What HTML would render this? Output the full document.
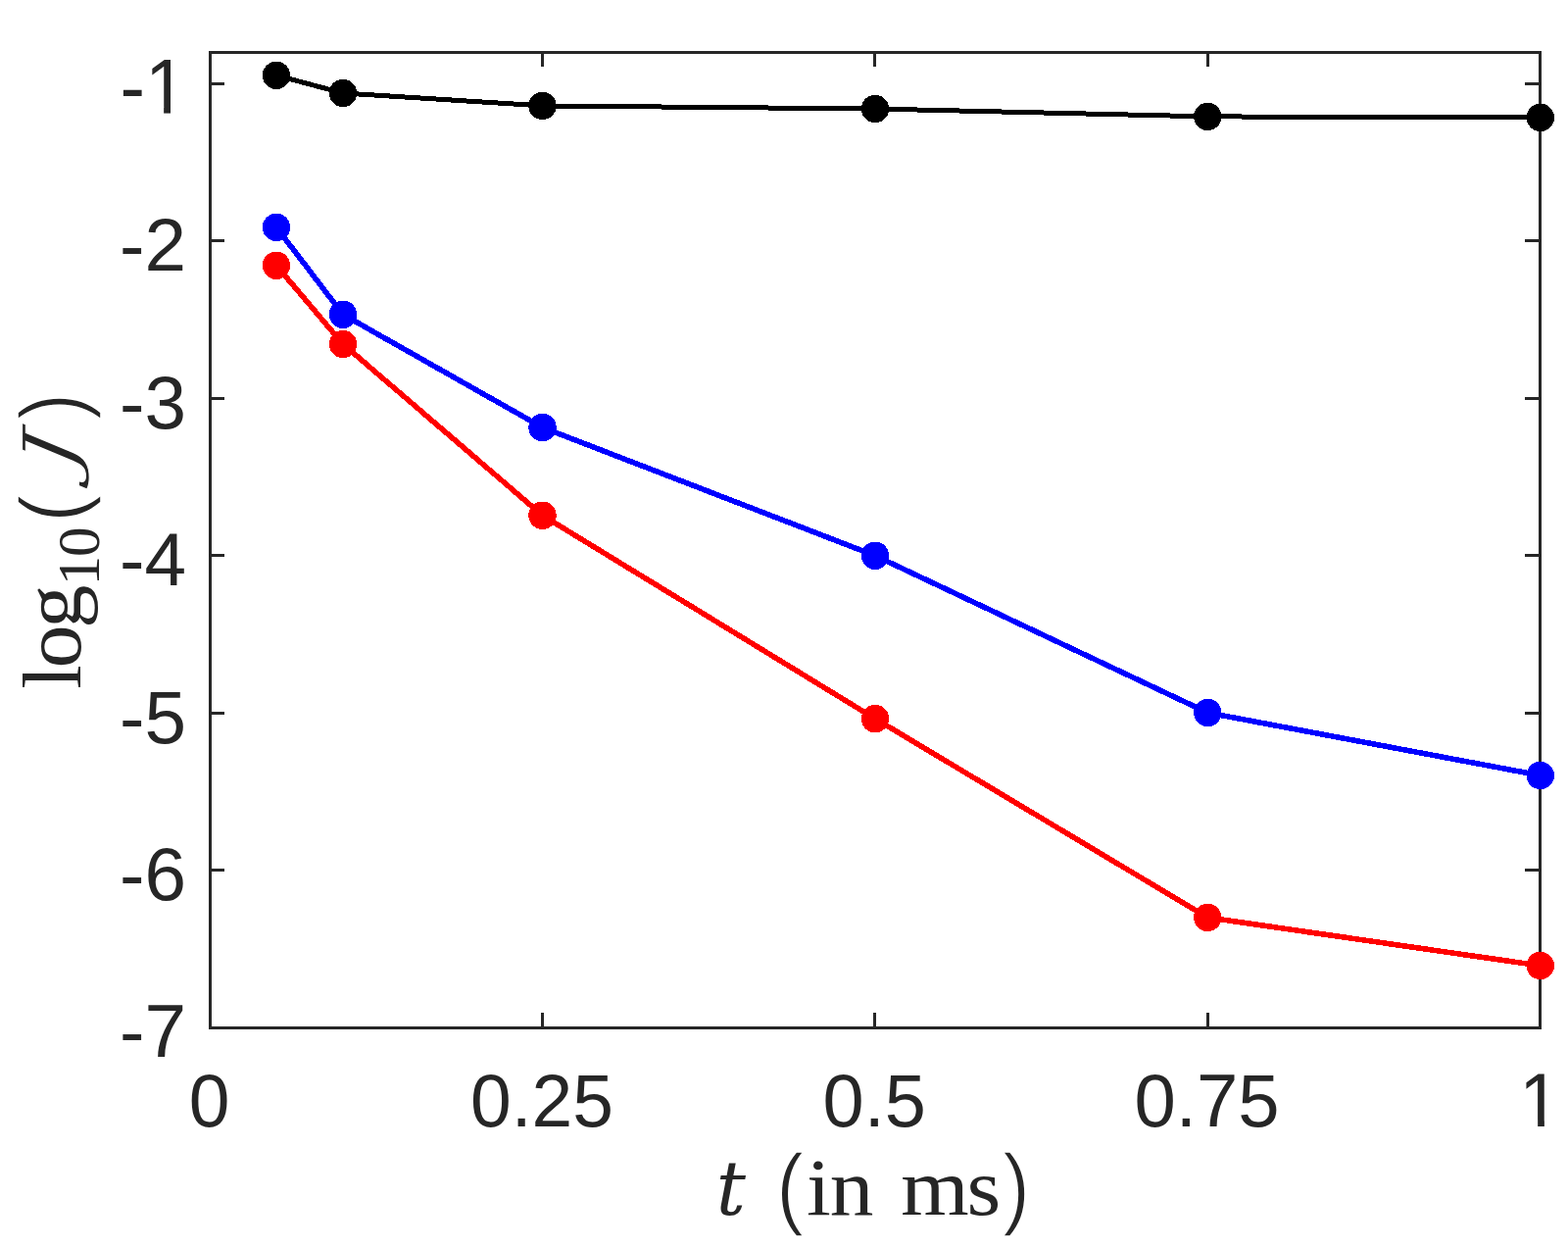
<!DOCTYPE html>
<html lang="en"><head><meta charset="utf-8"><title>Figure</title>
<style>
html,body{margin:0;padding:0;background:#fff;}
body{width:1600px;height:1273px;overflow:hidden;}
svg{display:block;}
.tick{font-family:"Liberation Sans",sans-serif;font-size:75px;fill:#262626;}
.lab{font-family:"Liberation Serif",serif;fill:#262626;font-kerning:none;}
.it{font-style:italic;}
.sn{font-family:"Liberation Sans",sans-serif;}
.dvi{font-family:"DejaVu Serif","Liberation Serif",serif;font-style:italic;}
</style></head><body>
<svg width="1600" height="1273" viewBox="0 0 1600 1273">
<rect x="0" y="0" width="1600" height="1273" fill="#ffffff"/>
<g fill="none" stroke="#262626" stroke-width="3" shape-rendering="crispEdges">
<rect x="214.5" y="53.5" width="1357.0" height="995.0"/>
<line x1="553.5" y1="1048.5" x2="553.5" y2="1033.0"/>
<line x1="553.5" y1="53.5" x2="553.5" y2="68.0"/>
<line x1="892.5" y1="1048.5" x2="892.5" y2="1033.0"/>
<line x1="892.5" y1="53.5" x2="892.5" y2="68.0"/>
<line x1="1232.5" y1="1048.5" x2="1232.5" y2="1033.0"/>
<line x1="1232.5" y1="53.5" x2="1232.5" y2="68.0"/>
<line x1="214.5" y1="85.5" x2="229.0" y2="85.5"/>
<line x1="1571.5" y1="85.5" x2="1556.0" y2="85.5"/>
<line x1="214.5" y1="245.5" x2="229.0" y2="245.5"/>
<line x1="1571.5" y1="245.5" x2="1556.0" y2="245.5"/>
<line x1="214.5" y1="406.5" x2="229.0" y2="406.5"/>
<line x1="1571.5" y1="406.5" x2="1556.0" y2="406.5"/>
<line x1="214.5" y1="566.5" x2="229.0" y2="566.5"/>
<line x1="1571.5" y1="566.5" x2="1556.0" y2="566.5"/>
<line x1="214.5" y1="727.5" x2="229.0" y2="727.5"/>
<line x1="1571.5" y1="727.5" x2="1556.0" y2="727.5"/>
<line x1="214.5" y1="887.5" x2="229.0" y2="887.5"/>
<line x1="1571.5" y1="887.5" x2="1556.0" y2="887.5"/>
</g>
<defs><clipPath id="c1e"><rect x="-200" y="-90" width="400" height="84.00"/><rect x="-22.90" y="-6.60" width="6.73" height="6.60"/></clipPath><clipPath id="c1m"><rect x="-200" y="-90" width="400" height="84.00"/><rect x="-2.05" y="-6.60" width="6.73" height="6.60"/></clipPath></defs>
<g class="tick">
<text transform="translate(213.7 1148.8) scale(1.000 1.020)" text-anchor="middle">0</text>
<text transform="translate(553.0 1148.8) scale(1.000 1.020)" text-anchor="middle">0.25</text>
<text transform="translate(892.2 1148.8) scale(1.010 1.020)" text-anchor="middle">0.5</text>
<text transform="translate(1231.5 1148.8) scale(1.015 1.020)" text-anchor="middle">0.75</text>
<text transform="translate(1571.2 1149.0) scale(1.000 1.035)" text-anchor="middle" clip-path="url(#c1m)">1</text>
<text transform="translate(190.5 115.8) scale(1.020 1.050)" text-anchor="end" clip-path="url(#c1e)">-1</text>
<text transform="translate(190.0 275.8) scale(1.020 1.020)" text-anchor="end">-2</text>
<text transform="translate(190.0 436.8) scale(1.020 1.020)" text-anchor="end">-3</text>
<text transform="translate(190.0 596.8) scale(1.020 1.020)" text-anchor="end">-4</text>
<text transform="translate(190.0 757.8) scale(1.020 1.020)" text-anchor="end">-5</text>
<text transform="translate(190.0 917.8) scale(1.020 1.020)" text-anchor="end">-6</text>
<text transform="translate(190.0 1078.1) scale(1.020 1.020)" text-anchor="end">-7</text>
</g>
<g class="lab">
<g aria-label="t (in ms)"><text transform="translate(730.74 1238.92) scale(0.9830 1.0000)" font-size="76.48" class="dvi">t </text><text transform="translate(791.99 1241.81) scale(0.9225 1.0000)" font-size="91.99" class="sn" stroke="#fff" stroke-width="1.5" vector-effect="non-scaling-stroke">(</text><text transform="translate(822.97 1239.00) scale(1.0900 1.0000)" font-size="82" letter-spacing="-0.96">in </text><text transform="translate(919.18 1239.00) scale(1.0900 1.0000)" font-size="82" letter-spacing="-1.98">ms</text><text transform="translate(1022.95 1241.81) scale(0.9184 1.0000)" font-size="91.99" class="sn" stroke="#fff" stroke-width="1.5" vector-effect="non-scaling-stroke">)</text></g>
<g aria-label="log10(J)" transform="translate(82.1 701.0) rotate(-90)"><text transform="translate(-1.77 0.00) scale(1.0500 1.0000)" font-size="84" letter-spacing="-3.12">log</text><text transform="translate(103.84 19.10)" font-size="61" letter-spacing="-1.42">10</text><text transform="translate(167.92 1.98) scale(0.9436 1.0000)" font-size="91.13" class="sn" stroke="#fff" stroke-width="1.5" vector-effect="non-scaling-stroke">(</text><text transform="translate(219.40 -5.65) skewX(-10) scale(1.2510 1.0000)" font-size="73.32" class="dvi" stroke="#fff" stroke-width="1.2" vector-effect="non-scaling-stroke">J</text><text transform="translate(272.67 1.98) scale(0.8981 1.0000)" font-size="91.13" class="sn" stroke="#fff" stroke-width="1.5" vector-effect="non-scaling-stroke">)</text></g>
</g>
<g shape-rendering="crispEdges">
<polyline points="282.0,76.9 350.0,95.0 553.5,107.9 893.0,111.0 1232.3,118.9 1571.8,119.9" fill="none" stroke="#000000" stroke-width="5" stroke-linejoin="round"/>
<circle cx="282.0" cy="76.9" r="14.2" fill="#000000"/>
<circle cx="350.0" cy="95.0" r="14.2" fill="#000000"/>
<circle cx="553.5" cy="107.9" r="14.2" fill="#000000"/>
<circle cx="893.0" cy="111.0" r="14.2" fill="#000000"/>
<circle cx="1232.3" cy="118.9" r="14.2" fill="#000000"/>
<circle cx="1571.8" cy="119.9" r="14.2" fill="#000000"/>
</g>
<g shape-rendering="crispEdges">
<polyline points="282.0,231.9 350.0,320.8 553.5,436.0 893.0,566.8 1232.3,727.0 1571.8,791.0" fill="none" stroke="#0000ff" stroke-width="5.6" stroke-linejoin="round"/>
<circle cx="282.0" cy="231.9" r="14.2" fill="#0000ff"/>
<circle cx="350.0" cy="320.8" r="14.2" fill="#0000ff"/>
<circle cx="553.5" cy="436.0" r="14.2" fill="#0000ff"/>
<circle cx="893.0" cy="566.8" r="14.2" fill="#0000ff"/>
<circle cx="1232.3" cy="727.0" r="14.2" fill="#0000ff"/>
<circle cx="1571.8" cy="791.0" r="14.2" fill="#0000ff"/>
</g>
<g shape-rendering="crispEdges">
<polyline points="282.0,270.8 350.0,351.0 553.5,525.7 893.0,733.1 1232.3,935.9 1571.8,985.0" fill="none" stroke="#ff0000" stroke-width="5.6" stroke-linejoin="round"/>
<circle cx="282.0" cy="270.8" r="14.2" fill="#ff0000"/>
<circle cx="350.0" cy="351.0" r="14.2" fill="#ff0000"/>
<circle cx="553.5" cy="525.7" r="14.2" fill="#ff0000"/>
<circle cx="893.0" cy="733.1" r="14.2" fill="#ff0000"/>
<circle cx="1232.3" cy="935.9" r="14.2" fill="#ff0000"/>
<circle cx="1571.8" cy="985.0" r="14.2" fill="#ff0000"/>
</g>
</svg></body></html>
